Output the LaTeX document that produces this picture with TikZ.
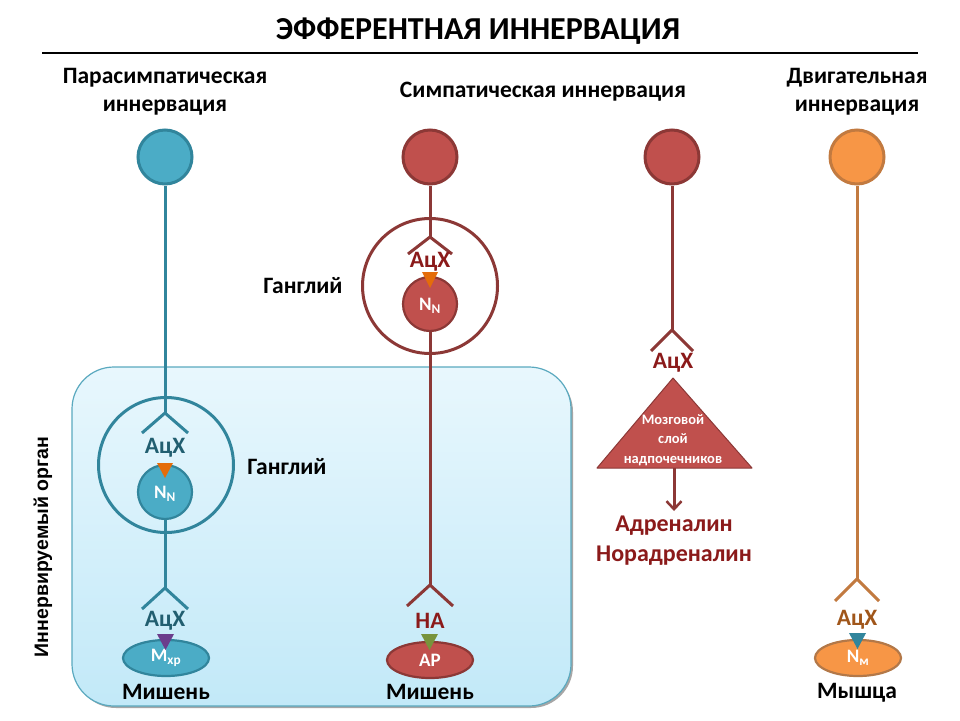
\documentclass[tikz,border=0pt]{standalone}
\usepackage{fontspec}
\setmainfont{Carlito}
\newfontfamily\arialfont{Liberation Sans}
\usetikzlibrary{shapes.geometric,arrows.meta}
\definecolor{bfill}{HTML}{4BACC6}
\definecolor{bline}{HTML}{31859C}
\definecolor{btext}{HTML}{215E70}
\definecolor{rfill}{HTML}{C0504D}
\definecolor{rline}{HTML}{8C3836}
\definecolor{rtext}{HTML}{8B1A1A}
\definecolor{ofill}{HTML}{F79646}
\definecolor{oline}{HTML}{C27A40}
\definecolor{otext}{HTML}{A0561A}
\definecolor{trior}{HTML}{E46C0A}
\definecolor{tripu}{HTML}{6B3D8C}
\definecolor{trigr}{HTML}{77933C}
\definecolor{tribl}{HTML}{31859C}
\definecolor{boxtop}{HTML}{E8F7FD}
\definecolor{boxbot}{HTML}{C2E9F8}
\definecolor{boxline}{HTML}{5AA9BF}
\begin{document}
\begin{tikzpicture}[x=1pt,y=-1pt,
  every node/.style={font=\bfseries},
  neuron/.style={circle,minimum size=54pt,inner sep=0pt,line width=3pt},
  small/.style={circle,minimum size=54pt,inner sep=0pt,line width=2.2pt},
  gang/.style={circle,minimum size=135pt,inner sep=0pt,line width=3pt},
  axon/.style={line width=3pt,line join=round},
  target/.style={ellipse,minimum width=86pt,minimum height=36pt,inner sep=0pt,line width=2.2pt,text=white,font=\bfseries\fontsize{19}{19}\selectfont},
  lab/.style={font=\bfseries\fontsize{23.5}{23.5}\selectfont},
  head/.style={font=\bfseries\fontsize{23.5}{28}\selectfont,align=center},
  nn/.style={text=white,font=\bfseries\fontsize{19}{19}\selectfont}
]
\useasboundingbox (0,0) rectangle (960,720);
\fill[white] (0,0) rectangle (960,720);

% organ box
\fill[rounded corners=42pt,fill=black!35] (74,370) rectangle (573,708);
\shade[rounded corners=42pt,top color=boxtop,bottom color=boxbot] (72,367) rectangle (571,706);
\draw[rounded corners=42pt,draw=boxline,line width=1.2pt] (72,367) rectangle (571,706);
\node[font=\arialfont\bfseries\fontsize{19.5}{19.5}\selectfont,rotate=90] (organ) at (43,547) {Иннервируемый орган};

% title
\node[font=\bfseries\fontsize{32}{32}\selectfont] (title) at (478,31) {ЭФФЕРЕНТНАЯ ИННЕРВАЦИЯ};
\coordinate (tl) at (42,53);
\coordinate (tr) at (918,53);
\draw[line width=1.8pt] (tl) -- (tr);

\node[head] (h1) at (165,92) {Парасимпатическая\\иннервация};
\node[head] (h2) at (543,92) {Симпатическая иннервация};
\node[head] (h3) at (857,92) {Двигательная\\иннервация};

% ---------- parasympathetic ----------
\node[neuron,fill=bfill,draw=bline] (pc) at (165,157) {};
\node[gang,draw=bline] (pg) at (166,465) {};
\coordinate (pf1) at (165,413);
\draw[axon,bline] (pc) -- (pf1);
\draw[axon,bline] (pf1) ++(-23,20) -- (pf1) -- ++(23,20);
\node[lab,text=btext] (pa1) at (165,448) {АцХ};
\node[small,fill=bfill,draw=bline] (pn) at (165,492) {};
\node[nn] (pnt) at (165,494) {N\textsubscript{N}};
\fill[trior] (157,463) -- (173,463) -- (165,478) -- cycle;
\coordinate (pf2) at (165,588);
\draw[axon,bline] (pn) -- (pf2);
\draw[axon,bline] (pf2) ++(-23,21) -- (pf2) -- ++(23,21);
\node[lab,text=btext] (pa2) at (165,621) {АцХ};
\node[target,fill=bfill,draw=bline] (pt) at (166,658) {M\textsubscript{хр}};
\fill[tripu] (157,634) -- (174,634) -- (165.5,650) -- cycle;
\node[lab] (pm) at (166,692) {Мишень};
\node[lab] (pgl) at (287,467) {Ганглий};

% ---------- sympathetic ----------
\node[neuron,fill=rfill,draw=rline] (sc) at (430,157) {};
\node[gang,draw=rline] (sg) at (430,286) {};
\coordinate (sf1) at (430,237);
\draw[axon,rline] (sc) -- (sf1);
\draw[axon,rline] (sf1) ++(-22,17) -- (sf1) -- ++(22,17);
\node[lab,text=rtext] (sa1) at (430,262) {АцХ};
\node[small,fill=rfill,draw=rline] (sn) at (430,304) {};
\node[nn] (snt) at (430,306) {N\textsubscript{N}};
\fill[trior] (422,272) -- (438,272) -- (430,288) -- cycle;
\coordinate (sf2) at (430,585);
\draw[axon,rline] (sn) -- (sf2);
\draw[axon,rline] (sf2) ++(-23,21) -- (sf2) -- ++(23,21);
\node[lab,text=rtext] (sa2) at (430,621) {НА};
\node[target,fill=rfill,draw=rline] (st) at (430,660) {АР};
\fill[trigr] (421,634) -- (438,634) -- (429.5,650) -- cycle;
\node[lab] (sm) at (430,692) {Мишень};
\node[lab] (sgl) at (303,286) {Ганглий};

% ---------- adrenal ----------
\node[neuron,fill=rfill,draw=rline] (ac) at (672,157) {};
\coordinate (af) at (672,330);
\draw[axon,rline] (ac) -- (af);
\draw[axon,rline] (af) ++(-21,21) -- (af) -- ++(21,21);
\node[lab,text=rtext] (aa) at (673,363) {АцХ};
\coordinate (t1) at (673,378);
\coordinate (t2) at (752,468);
\coordinate (t3) at (597,468);
\fill[rfill] (t1) -- (t2) -- (t3) -- cycle;
\draw[rline,line width=1pt,line join=round] (t1) -- (t2) -- (t3) -- cycle;
\node[text=white,font=\bfseries\fontsize{14.5}{19.5}\selectfont,align=center] (at) at (673,440) {Мозговой\\слой\\надпочечников};
\coordinate (ab) at (674,468);
\coordinate (aend) at (674,511);
\draw[rline,line width=3pt,-{Straight Barb[length=8pt,width=15pt,line width=2.5pt]}] (ab) -- (aend);
\node[lab,text=rtext,align=center,font=\bfseries\fontsize{24}{30}\selectfont] (ad) at (674,541) {Адреналин\\Норадреналин};

% ---------- motor ----------
\node[neuron,fill=ofill,draw=oline] (mc) at (857,157) {};
\coordinate (mf) at (857,579);
\draw[axon,oline] (mc) -- (mf);
\draw[axon,oline] (mf) ++(-22,22) -- (mf) -- ++(22,22);
\node[lab,text=otext] (ma) at (857,620) {АцХ};
\node[target,fill=ofill,draw=otext!80] (mt) at (858,658) {N\textsubscript{м}};
\fill[tribl] (849,633) -- (866,633) -- (857.5,649) -- cycle;
\node[lab] (mm) at (857,693) {Мышца};
\end{tikzpicture}
\end{document}
